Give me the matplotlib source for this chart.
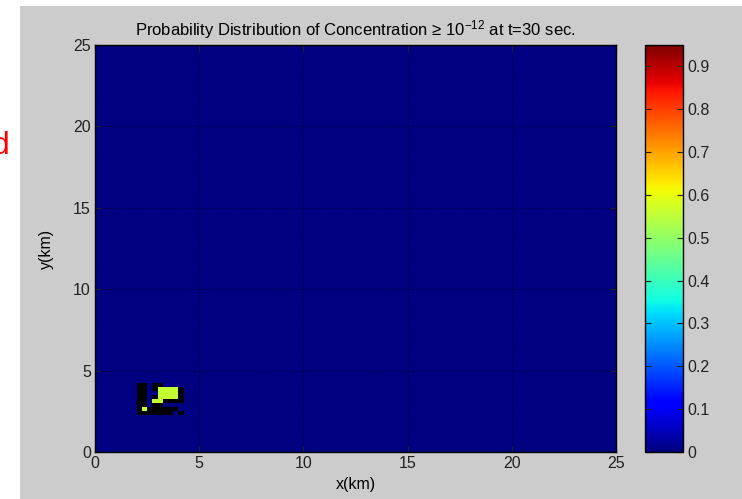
import numpy as np
import matplotlib.pyplot as plt
from matplotlib.patches import Rectangle

plt.rcParams['font.family'] = ['Liberation Sans', 'DejaVu Sans']
plt.rcParams['mathtext.default'] = 'regular'

# grid 0.25 km, domain 0-25 km
cell = 0.25
domain = 25.0
n = int(domain / cell)

# plume patch near the source: rows from top (y=4.0) down to y=2.25, cols from x=2.0
# nan = cells with particles but no probability value (drawn black)
N = np.nan
G = 0.56
patch_x0 = 2.0
patch_y0 = 2.25
patch = [
    [N, N, 0, N, N, 0, 0, 0, 0],
    [N, N, 0, N, G, G, G, G, N],
    [N, N, 0, 0, G, G, G, G, N],
    [N, N, 0, N, G, G, G, G, N],
    [N, N, 0, G, G, N, N, N, N],
    [N, N, 0, N, N, 0, 0, 0, 0],
    [N, G, N, N, N, N, N, N, 0],
    [N, N, N, N, N, N, N, 0, N],
]

prob = np.zeros((n, n))
rows = np.array(patch[::-1], dtype=float)
i0 = int(patch_y0 / cell)
j0 = int(patch_x0 / cell)
prob[i0:i0 + rows.shape[0], j0:j0 + rows.shape[1]] = rows
prob = np.ma.masked_invalid(prob)

edges = np.arange(0, domain + cell / 2, cell)
cmap = plt.get_cmap('jet').copy()
cmap.set_bad('black')
vmax = 0.95

fig = plt.figure(figsize=(7.42, 4.99), dpi=100, facecolor='#cccccc')
fig.patches.append(Rectangle((0, 0), 20 / 742, 1, transform=fig.transFigure,
                             facecolor='white', edgecolor='none', zorder=0))
fig.patches.append(Rectangle((0, 1 - 6 / 499), 1, 6 / 499, transform=fig.transFigure,
                             facecolor='white', edgecolor='none', zorder=0))
fig.text(9 / 742, 1 - 154 / 499, 'd', color='red', fontsize=23, ha='right', va='baseline')

ax = fig.add_axes([95 / 742, 1 - 452 / 499, 521 / 742, 407 / 499])
mesh = ax.pcolormesh(edges, edges, prob, cmap=cmap, vmin=0, vmax=vmax, shading='flat')
ax.set_xlim(0, 25)
ax.set_ylim(0, 25)
ax.set_xticks(np.arange(0, 26, 5))
ax.set_yticks(np.arange(0, 26, 5))
ax.grid(True, color='black', linestyle=':', linewidth=0.8, alpha=0.6)
ax.tick_params(direction='in', top=True, right=True, labelsize=11.5, length=4,
               colors='#222222', pad=3)
for s in ax.spines.values():
    s.set_linewidth(1.0)
ax.set_xlabel('x(km)', fontsize=11.5, labelpad=4)
ax.set_ylabel('y(km)', fontsize=11.5, labelpad=14)
ax.set_title(r'Probability Distribution of Concentration ≥ $10^{-12}$ at t=30 sec.',
             fontsize=12, pad=7)

cax = fig.add_axes([645 / 742, 1 - 452 / 499, 38 / 742, 407 / 499])
cb = fig.colorbar(mesh, cax=cax, ticks=np.arange(0, 0.91, 0.1))
cb.ax.set_yticklabels(['0'] + ['%.1f' % v for v in np.arange(0.1, 0.91, 0.1)])
cb.ax.tick_params(direction='in', left=True, right=True, labelsize=11.5, length=4,
                  colors='#222222', pad=3)
cb.outline.set_linewidth(1.0)

fig.savefig('out.png', dpi=100, facecolor=fig.get_facecolor())
